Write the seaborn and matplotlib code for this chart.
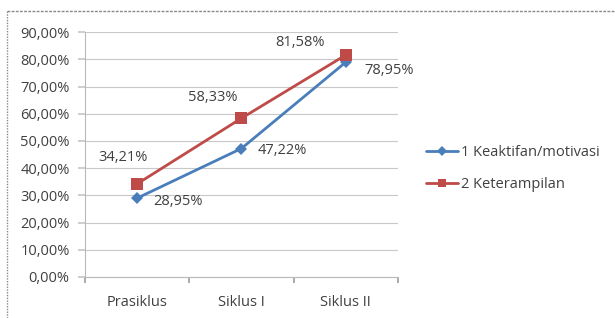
import matplotlib
matplotlib.use("Agg")
import matplotlib.pyplot as plt
from matplotlib.lines import Line2D
from matplotlib.ticker import FuncFormatter, MultipleLocator
import pandas as pd
import seaborn as sns

# data
categories = ["Prasiklus", "Siklus I", "Siklus II"]
keaktifan = [28.95, 47.22, 78.95]
keterampilan = [34.21, 58.33, 81.58]
series_names = ["1 Keaktifan/motivasi", "2 Keterampilan"]

df = pd.DataFrame({
    "Tahap": categories * 2,
    "Nilai": keaktifan + keterampilan,
    "Seri": [series_names[0]] * 3 + [series_names[1]] * 3,
})

sns.set_theme(style="white")
plt.rcParams["font.family"] = ["Open Sans", "DejaVu Sans"]

blue = "#4a7ebb"
red = "#be4b48"
txt = "#404040"
fs = 10.5

fig = plt.figure(figsize=(6.15, 3.18), dpi=100)
ax = fig.add_axes([0.138, 0.129, 0.509, 0.770])

sns.lineplot(data=df, x="Tahap", y="Nilai", hue="Seri", style="Seri",
             markers={series_names[0]: "D", series_names[1]: "s"},
             dashes=False, palette={series_names[0]: blue, series_names[1]: red},
             linewidth=2, markersize=7, markeredgewidth=0, ax=ax, legend=False,
             sort=False)
# diamond a bit smaller than the square
ax.lines[0].set_markersize(6)
ax.lines[1].set_markersize(8)

ax.set_xlim(-0.5, 2.5)
ax.set_ylim(0, 90)
ax.yaxis.set_major_locator(MultipleLocator(10))
ax.yaxis.set_major_formatter(FuncFormatter(lambda v, p: f"{v:.2f}%".replace(".", ",")))
ax.set_xticks([-0.5, 0.5, 1.5, 2.5], minor=False)
ax.set_xticklabels([])
ax.set_xticks([0, 1, 2], minor=True)
ax.set_xticklabels(categories, minor=True)
ax.tick_params(axis="x", which="major", length=4, color="#a0a0a0", direction="out")
ax.tick_params(axis="x", which="minor", length=0, pad=13)
ax.tick_params(axis="y", length=5, color="#c8c8c8", direction="out", pad=6)
ax.tick_params(which="both", labelsize=fs, labelcolor=txt)
ax.set_xlabel("")
ax.set_ylabel("")
ax.grid(axis="y", color="#c8c8c8", linewidth=0.8)
for s in ["top", "right"]:
    ax.spines[s].set_visible(False)
for s in ["left", "bottom"]:
    ax.spines[s].set_color("#b8b8b8")
    ax.spines[s].set_linewidth(0.8)
ax.yaxis.set_ticks_position("left")
ax.xaxis.set_ticks_position("bottom")

fmt = lambda v: f"{v:.2f}%".replace(".", ",")
blue_off = [(16, -3), (16, -2), (19, -8)]
red_off = [(-14, 26), (-29, 21), (-46, 13)]
for i, v in enumerate(keaktifan):
    ax.annotate(fmt(v), (i, v), xytext=blue_off[i], textcoords="offset pixels",
                ha="left", va="center", fontsize=fs, color=txt)
for i, v in enumerate(keterampilan):
    ax.annotate(fmt(v), (i, v), xytext=red_off[i], textcoords="offset pixels",
                ha="center", va="center", fontsize=fs, color=txt)

handles = [Line2D([], [], color=blue, marker="D", markersize=5, linewidth=2, markeredgewidth=0),
           Line2D([], [], color=red, marker="s", markersize=6, linewidth=2, markeredgewidth=0)]
leg = fig.legend(handles, series_names, loc="center left", bbox_to_anchor=(0.672, 0.47),
                 frameon=False, fontsize=fs, handlelength=2.2, handletextpad=0.2,
                 labelspacing=1.15)
for t in leg.get_texts():
    t.set_color(txt)

# chart area border
fig.add_artist(Line2D([7 / 615, 1], [1 - 11 / 318] * 2, transform=fig.transFigure,
                      color="#888888", linewidth=1, linestyle=(0, (2, 1))))
fig.add_artist(Line2D([7 / 615] * 2, [0, 1 - 11 / 318], transform=fig.transFigure,
                      color="#888888", linewidth=1, linestyle=(0, (1, 1))))

fig.savefig("out.png", dpi=100)
